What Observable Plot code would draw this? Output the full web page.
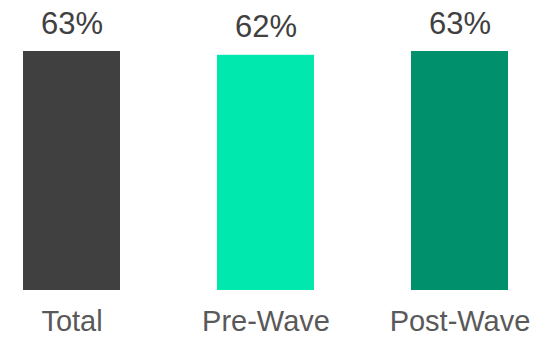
<!DOCTYPE html>
<html>
<head>
<meta charset="utf-8">
<script src="https://cdn.jsdelivr.net/npm/d3@7"></script>
<script src="https://cdn.jsdelivr.net/npm/@observablehq/plot@0.6"></script>
<style>
  html, body { margin: 0; padding: 0; background: #fff; }
  svg { display: block; }
</style>
</head>
<body>
<div id="chart"></div>
<script>
const categories = ["Total", "Pre-Wave", "Post-Wave"];
const values = [63, 62, 63];
const labels = ["63%", "62%", "63%"];
const colors = ["#404040", "#00E8AE", "#00916C"];

const data = categories.map((c, i) => ({category: c, value: values[i], label: labels[i]}));

const chart = Plot.plot({
  width: 559,
  height: 338,
  margin: 0,
  style: {background: "#fff"},
  x: {domain: categories, range: [23, 508], paddingInner: 0.5, paddingOuter: 0, axis: null},
  y: {domain: [0, 63], range: [290, 51], axis: null},
  color: {domain: categories, range: colors},
  marks: [
    Plot.barY(data, {x: "category", y: "value", fill: "category"}),
    Plot.text(data, {x: "category", y: "value", text: "label", dy: -18, lineAnchor: "bottom", fontSize: 31, fontFamily: "Liberation Sans", fill: "#404040"}),
    Plot.text(data, {x: "category", y: 0, text: "category", dy: 40, lineAnchor: "bottom", fontSize: 29, fontFamily: "Liberation Sans", fill: "#595959"})
  ]
});
document.getElementById("chart").appendChild(chart);
</script>
</body>
</html>
